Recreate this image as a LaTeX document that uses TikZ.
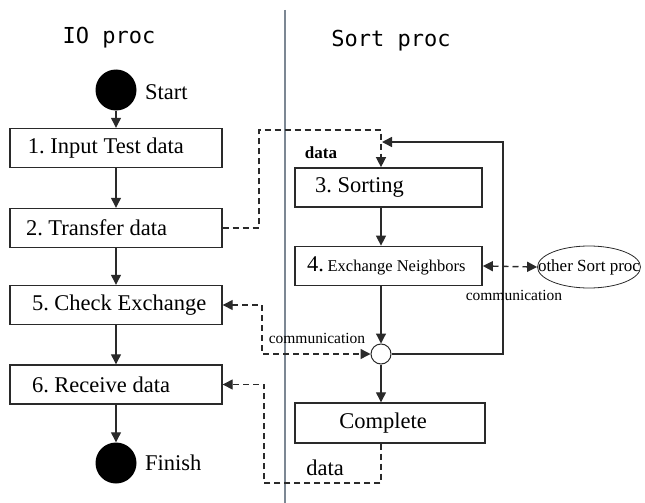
\documentclass[tikz,border=0pt]{standalone}
\usepackage{fontspec}
\setmainfont{Liberation Serif}
\newfontfamily\headfont{DejaVu Sans Mono}
\usetikzlibrary{arrows.meta,shapes.geometric}
\frenchspacing

\definecolor{ink}{HTML}{2A2A2A}
\definecolor{lane}{HTML}{7C8793}

\tikzset{
  tri/.tip={Triangle[length=10pt,width=10pt]},
  stepbox/.style={draw=ink, line width=1.4pt, minimum height=39pt,
    minimum width=212pt, inner sep=0pt,
    font=\fontsize{22.5}{24}\selectfont},
  sortbox/.style={draw=ink, line width=1.7pt, minimum height=39pt,
    minimum width=187pt, inner sep=0pt,
    font=\fontsize{22.5}{24}\selectfont},
  flow/.style={draw=ink, line width=1.2pt, -tri},
  msg/.style={draw=ink, line width=1.4pt, dash pattern=on 6pt off 4pt},
  dot/.style={circle, fill=black, minimum size=41pt, inner sep=0pt},
  lbl/.style={inner sep=0pt, font=\fontsize{22.5}{24}\selectfont},
  small/.style={inner sep=0pt, font=\fontsize{15.5}{17}\selectfont},
  head/.style={inner sep=0pt, font=\headfont\fontsize{22}{24}\selectfont},
}
% left-set caption inside a box of the given width
\newcommand{\boxtext}[3]{\makebox[#1][l]{\hspace*{#2}#3}}

\begin{document}
\begin{tikzpicture}[x=1pt,y=-1pt]
\useasboundingbox (0,0) rectangle (645,503);

% swim-lane divider and lane titles
\draw[lane, line width=1.6pt] (285,10) -- (285,503);
\node[head] (iohead) at (109,38) {IO proc};
\node[head] (sorthead) at (391,41) {Sort proc};

% IO process column
\node[dot] (start) at (116,90) {};
\node[lbl, anchor=west] (startlbl) at (145,92) {Start};
\node[stepbox] (b1) at (116,148) {\boxtext{210pt}{17pt}{1. Input Test data}};
\node[stepbox] (b2) at (116,228) {\boxtext{210pt}{15pt}{2. Transfer data}};
\node[stepbox] (b5) at (116,305) {\boxtext{210pt}{21pt}{5. Check Exchange}};
\node[stepbox] (b6) at (116,384.5) {\boxtext{210pt}{21pt}{6. Receive data}};
\node[dot] (finish) at (116,463) {};
\node[lbl, anchor=west] (finishlbl) at (145,463) {Finish};

\draw[flow] (start) -- (b1);
\draw[flow] (b1) -- (b2);
\draw[flow] (b2) -- (b5);
\draw[flow] (b5) -- (b6);
\draw[flow] (b6) -- (finish);

% Sort process column
\node[sortbox] (b3) at (388.5,187.5) {\boxtext{185pt}{19pt}{3. Sorting}};
\node[sortbox] (b4) at (388.5,266)
  {\boxtext{185pt}{11pt}{4.\,{\fontsize{16.5}{19}\selectfont Exchange Neighbors}}};
\node[circle, draw=ink, fill=white, line width=1pt, minimum size=20pt,
  inner sep=0pt] (junc) at (381,354) {};
\node[draw=ink, line width=1.4pt, minimum width=190pt, minimum height=40pt,
  inner sep=0pt, font=\fontsize{22.5}{24}\selectfont] (done) at (390,423)
  {Complete\hspace*{14pt}};
\node[ellipse, draw=ink, line width=0.8pt, minimum width=103pt,
  minimum height=42pt, inner sep=0pt, font=\fontsize{17}{19}\selectfont]
  (other) at (589,267) {\makebox[0pt]{other Sort proc}};

\draw[flow] (b3.south -| junc) -- (b4.north -| junc);
\draw[flow] (b4.south -| junc) -- (junc);
\draw[flow] (junc) -- (done.north -| junc);

% loop back to sorting
\coordinate (loopr) at (503,142);
\coordinate (loopl) at (382,142);
\draw[flow, line width=1.6pt] (junc.east) -| (loopr) -- (loopl);

% messages between processes
\coordinate (c2) at (259,130);
\draw[msg, -tri] (b2.east) -| (c2) -| (b3.north -| junc);
\node[inner sep=0pt, font=\bfseries\fontsize{17}{19}\selectfont] (datatop) at (321,153) {data};

\draw[msg, tri-tri] (b4.east) -- (other.west);
\node[small] (comm1) at (514,295) {communication};

\coordinate (c5) at (262,354);
\draw[msg, tri-tri] (b5.east) -| (c5) -- (junc.west);
\node[small] (comm2) at (317,338) {communication};

\coordinate (c6) at (264,483);
\draw[msg, -tri] (done.south -| junc) |- (c6) |- (b6.east);
\node[lbl] (databot) at (325,468) {data};
\end{tikzpicture}
\end{document}
